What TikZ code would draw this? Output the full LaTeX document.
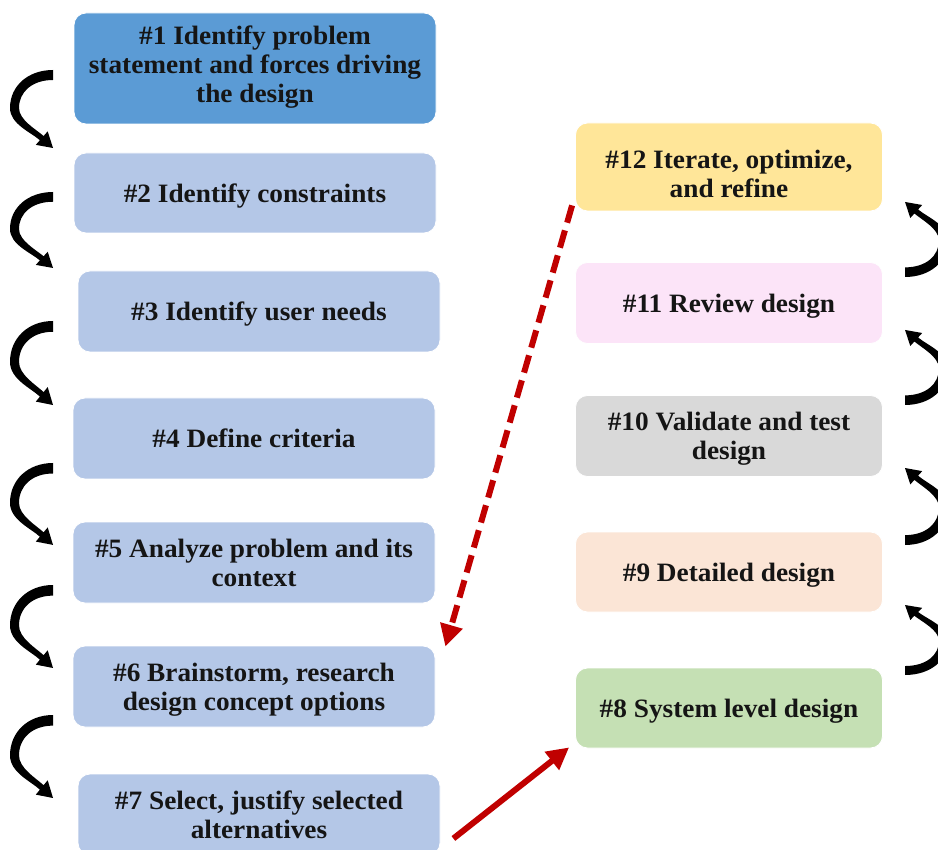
\documentclass[tikz,border=0pt]{standalone}
\usepackage{fontspec}
\setmainfont{Liberation Serif}[FakeStretch=1.03]
\usetikzlibrary{arrows.meta,calc}
\definecolor{blueA}{HTML}{5B9BD5}
\definecolor{blueB}{HTML}{B4C7E7}
\definecolor{yellowC}{HTML}{FFE699}
\definecolor{pinkC}{HTML}{FCE4F8}
\definecolor{grayC}{HTML}{D9D9D9}
\definecolor{peachC}{HTML}{FBE5D6}
\definecolor{greenC}{HTML}{C5E0B4}
\definecolor{redC}{HTML}{C00000}
\definecolor{textC}{HTML}{151515}
\tikzset{
  curlarrow/.pic={
    \fill[black] (53,0) .. controls (28,0) and (10,16) .. (10,38)
      .. controls (10,54) and (30.9,62.3) .. (39.9,70.2)
      -- (35.8,74.85) -- (53,78) -- (47.7,61.35) -- (43.6,66.0)
      .. controls (36.1,59.4) and (19,50) .. (19,38)
      .. controls (19,22) and (32,10) .. (53,10) -- cycle;
  }
}
\begin{document}
\begin{tikzpicture}[x=1pt,y=-1pt,
  box/.style={rounded corners=12pt, draw=white, line width=0.8pt, align=center,
    inner sep=0pt, text depth=0pt, font=\fontsize{26.5}{29}\selectfont\bfseries, text=textC},
  lbox/.style={box, minimum width=362pt, minimum height=81pt},
  rbox/.style={box, minimum width=307pt, minimum height=81pt},
  redarrow/.style={draw=redC, line width=6pt, -{Triangle[length=22pt,width=22pt]}}]
\useasboundingbox (0,0) rectangle (938,850);

% left column
\node[lbox, fill=blueA, minimum height=111pt, text depth=8pt] (b1) at (255,68.5)
  {\#1 Identify problem\\statement and forces driving\\the design};
\node[lbox, fill=blueB, minimum height=80pt] (b2) at (255,193) {\#2 Identify constraints};
\node[lbox, fill=blueB] (b3) at (259,311.5) {\#3 Identify user needs};
\node[lbox, fill=blueB] (b4) at (254,438.5) {\#4 Define criteria};
\node[lbox, fill=blueB] (b5) at (254,562.5) {\#5 Analyze problem and its\\context};
\node[lbox, fill=blueB] (b6) at (254,686.5) {\#6 Brainstorm, research\\design concept options};
\node[lbox, fill=blueB] (b7) at (259,814.5) {\#7 Select, justify selected\\alternatives};

% right column
\node[rbox, fill=yellowC, minimum height=88pt, text height=61pt] (b12) at (729,167) {\#12 Iterate, optimize,\\and refine};
\node[rbox, fill=pinkC] (b11) at (729,303) {\#11 Review design};
\node[rbox, fill=grayC] (b10) at (729,436) {\#10 Validate and test\\design};
\node[rbox, fill=peachC, minimum height=80pt] (b9) at (729,572) {\#9 Detailed design};
\node[rbox, fill=greenC, minimum height=80pt] (b8) at (729,708) {\#8 System level design};

% left curved arrows
\pic[yscale=1] at (0,70) {curlarrow};
\pic[yscale=0.974] at (0,192) {curlarrow};
\pic[yscale=1.077] at (0,321) {curlarrow};
\pic[yscale=1.05] at (0,463) {curlarrow};
\pic[yscale=1.064] at (0,585) {curlarrow};
\pic[yscale=1.064] at (0,715) {curlarrow};

% right curved arrows
\pic[xscale=-1,yscale=-0.962] at (958,277) {curlarrow};
\pic[xscale=-1,yscale=-0.962] at (958,405) {curlarrow};
\pic[xscale=-1,yscale=-0.987] at (958,545) {curlarrow};
\pic[xscale=-1,yscale=-0.897] at (958,675) {curlarrow};

% red arrows
\draw[redarrow, dash pattern=on 18pt off 8pt]
  ($(b12.south west)+(-3,-6)$) -- ($(b6.north east)+(10,1)$);
\draw[redarrow] ($(b7.east)+(13,24)$) -- ($(b8.south west)+(-6,-1)$);
\end{tikzpicture}
\end{document}
